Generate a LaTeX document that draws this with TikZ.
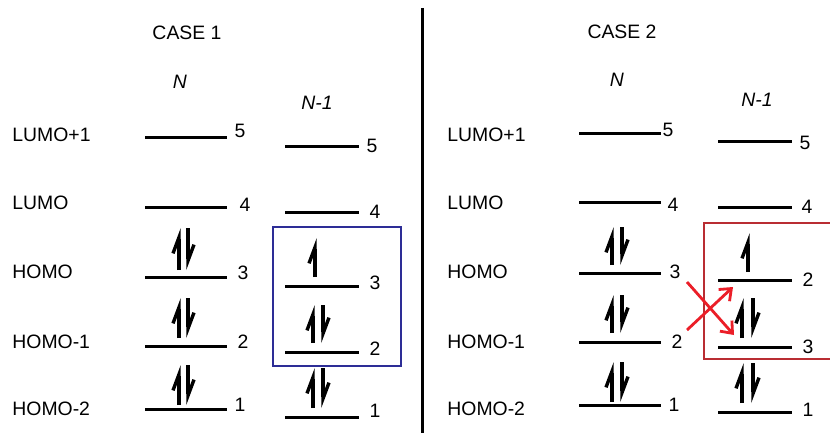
\documentclass[tikz,border=0pt]{standalone}
\usepackage{fontspec}
\setmainfont{Liberation Sans}
\usetikzlibrary{arrows.meta}
\definecolor{boxblue}{RGB}{45,45,150}
\definecolor{boxred}{RGB}{185,45,50}
\definecolor{swapred}{RGB}{235,30,40}
\tikzset{
  lvl_n/.style = {rectangle, fill=black, inner sep=0pt, minimum height=1.5pt, minimum width=41pt},
  lvl_m/.style = {lvl_n, minimum width=37pt},
  num/.style = {inner sep=0pt, font=\fontsize{9.7}{11}\selectfont},
  orb/.style = {num, anchor=west},
  head/.style = {num},
  spin/.style = {line width=1.7pt, -{Straight Barb[left, length=8pt, width=6pt]}},
  swap_arr/.style = {swapred, line width=1.4pt, -{Straight Barb[length=5pt, width=8pt]}}
}

\begin{document}
\begin{tikzpicture}[x=0.5pt, y=-0.5pt]
	\useasboundingbox (0,0) rectangle (830,433);

	% divider between the two cases
	\draw[line width=1.5pt] (422,8) -- (422,433);

	% ---------- case 1 ----------
	\node [head] (c1_title) at (187,33) {CASE 1};
	\node [head] (c1_n) at (180,82) {\textit{N}};
	\node [head] (c1_m) at (317,103) {\textit{N-1}};

	\node [orb] (c1_lumo1) at (12,135) {LUMO+1};
	\node [orb] (c1_lumo) at (12,203) {LUMO};
	\node [orb] (c1_homo) at (12,272) {HOMO};
	\node [orb] (c1_homo1) at (12,342) {HOMO-1};
	\node [orb] (c1_homo2) at (12,409) {HOMO-2};

	% N levels
	\node [lvl_n] (n1_5) at (186,138) {};
	\node [lvl_n] (n1_4) at (186,207) {};
	\node [lvl_n] (n1_3) at (186,277) {};
	\node [lvl_n] (n1_2) at (186,346) {};
	\node [lvl_n] (n1_1) at (186,409) {};
	\node [num] (n1_5l) at (240,131) {5};
	\node [num] (n1_4l) at (245,205) {4};
	\node [num] (n1_3l) at (243,273) {3};
	\node [num] (n1_2l) at (243,342) {2};
	\node [num] (n1_1l) at (240,405) {1};
	\draw [spin] (179,270) -- (179,228);
	\draw [spin] (188,228) -- (188,270);
	\draw [spin] (179,338) -- (179,298);
	\draw [spin] (188,298) -- (188,338);
	\draw [spin] (179,405) -- (179,365);
	\draw [spin] (188,365) -- (188,405);

	% N-1 levels
	\node [lvl_m] (m1_5) at (322,147) {};
	\node [lvl_m] (m1_4) at (322,212) {};
	\node [lvl_m] (m1_3) at (322,286) {};
	\node [lvl_m] (m1_2) at (322,352) {};
	\node [lvl_m] (m1_1) at (322,417) {};
	\node [num] (m1_5l) at (372,146) {5};
	\node [num] (m1_4l) at (375,212) {4};
	\node [num] (m1_3l) at (375,283) {3};
	\node [num] (m1_2l) at (375,349) {2};
	\node [num] (m1_1l) at (375,411) {1};
	\draw [spin] (315,277) -- (315,238);
	\draw [spin] (313,343) -- (313,305);
	\draw [spin] (323,305) -- (323,343);
	\draw [spin] (313,408) -- (313,368);
	\draw [spin] (323,368) -- (323,408);

	\draw [boxblue, line width=1.3pt] (273,227) rectangle (401,366);

	% ---------- case 2 ----------
	\node [head] (c2_title) at (622,32) {CASE 2};
	\node [head] (c2_n) at (617,80) {\textit{N}};
	\node [head] (c2_m) at (757,100) {\textit{N-1}};

	\node [orb] (c2_lumo1) at (447,135) {LUMO+1};
	\node [orb] (c2_lumo) at (447,203) {LUMO};
	\node [orb] (c2_homo) at (447,272) {HOMO};
	\node [orb] (c2_homo1) at (447,342) {HOMO-1};
	\node [orb] (c2_homo2) at (447,409) {HOMO-2};

	% N levels
	\node [lvl_n] (n2_5) at (619.5,134) {};
	\node [lvl_n] (n2_4) at (619.5,202) {};
	\node [lvl_n] (n2_3) at (619.5,273) {};
	\node [lvl_n] (n2_2) at (619.5,342) {};
	\node [lvl_n] (n2_1) at (619.5,405) {};
	\node [num] (n2_5l) at (668,130) {5};
	\node [num] (n2_4l) at (673,205) {4};
	\node [num] (n2_3l) at (675,272) {3};
	\node [num] (n2_2l) at (677,342) {2};
	\node [num] (n2_1l) at (674,405) {1};
	\draw [spin] (612,265) -- (612,227);
	\draw [spin] (622,227) -- (622,265);
	\draw [spin] (612,333) -- (612,295);
	\draw [spin] (622,295) -- (622,333);
	\draw [spin] (612,402) -- (612,362);
	\draw [spin] (622,362) -- (622,402);

	% N-1 levels, 2 and 3 swapped
	\node [lvl_m] (m2_5) at (754.5,142) {};
	\node [lvl_m] (m2_4) at (754.5,207) {};
	\node [lvl_m] (m2_2) at (754.5,280) {};
	\node [lvl_m] (m2_3) at (754.5,347) {};
	\node [lvl_m] (m2_1) at (754.5,412) {};
	\node [num] (m2_5l) at (805,143) {5};
	\node [num] (m2_4l) at (807,207) {4};
	\node [num] (m2_2l) at (808,280) {2};
	\node [num] (m2_3l) at (808,347) {3};
	\node [num] (m2_1l) at (808,410) {1};
	\draw [spin] (748,272) -- (748,233);
	\draw [spin] (742,338) -- (742,298);
	\draw [spin] (753,298) -- (753,338);
	\draw [spin] (742,403) -- (742,363);
	\draw [spin] (753,363) -- (753,403);

	\draw [boxred, line width=1.3pt] (831,223) -- (704,223) -- (704,359) -- (831,359);

	% crossing of levels 2 and 3
	\coordinate (from_3) at (687,282);
	\coordinate (from_2) at (687,330);
	\coordinate (to_3) at (734,335);
	\coordinate (to_2) at (733,287);
	\draw [swap_arr] (from_3) -- (to_3);
	\draw [swap_arr] (from_2) -- (to_2);
\end{tikzpicture}
\end{document}
